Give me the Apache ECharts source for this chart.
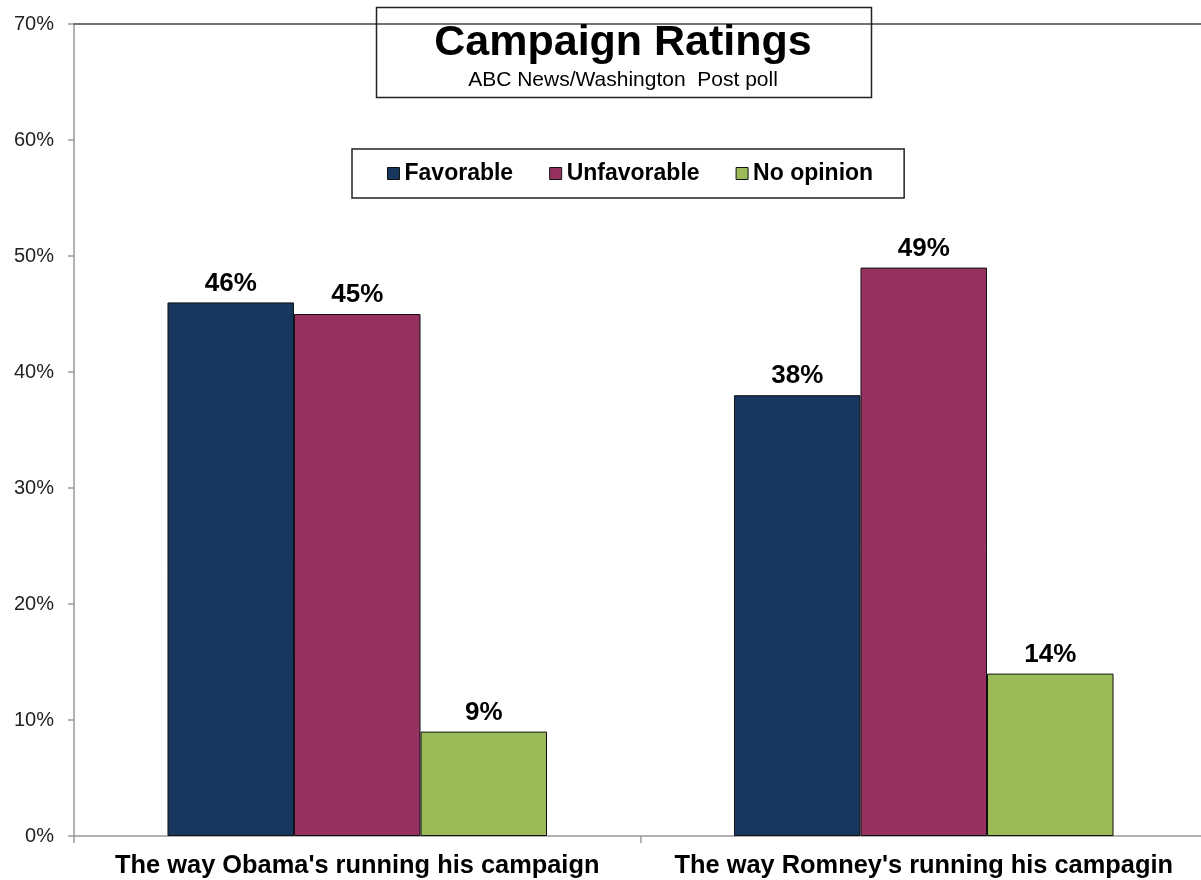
<!DOCTYPE html>
<html>
<head>
<meta charset="utf-8">
<script src="https://cdn.jsdelivr.net/npm/echarts@6/dist/echarts.min.js"></script>
<style>
html,body{margin:0;padding:0;background:#fff;}
#main{width:1201px;height:880px;}
</style>
</head>
<body>
<div id="main"></div>
<script>
var categories = ["The way Obama's running his campaign", "The way Romney's running his campagin"];
var favorable = [46, 38];
var unfavorable = [45, 49];
var noOpinion = [9, 14];
var seriesNames = ['Favorable', 'Unfavorable', 'No opinion'];
var colors = ['#17375E', '#953262', '#9BBB59'];

var labelStyle = {
	show: true,
	position: 'top',
	formatter: '{c}%',
	fontFamily: 'Liberation Sans, Arial',
	fontWeight: 'bold',
	fontSize: 26,
	color: '#000',
	distance: 6
};

function bar(name, data, color){
	return {
		name: name,
		type: 'bar',
		data: data,
		barGap: 0,
		barCategoryGap: '33%',
		itemStyle: {color: color, borderColor: '#111', borderWidth: 1},
		label: labelStyle
	};
}

var option = {
	backgroundColor: '#fff',
	animation: false,
	color: colors,
	title: {
		text: 'Campaign Ratings',
		subtext: 'ABC News/Washington  Post poll',
		left: 618,
		top: 17,
		textAlign: 'center',
		itemGap: 5,
		textStyle: {fontFamily: 'Liberation Sans, Arial', fontWeight: 'bold', fontSize: 43, color: '#000'},
		subtextStyle: {fontFamily: 'Liberation Sans, Arial', fontSize: 21, color: '#000'}
	},
	graphic: [{
		type: 'rect',
		shape: {x: 376.5, y: 7.5, width: 495, height: 90},
		style: {fill: 'none', stroke: '#222', lineWidth: 1.5},
		z: 10
	}],
	legend: {
		data: seriesNames,
		left: 352,
		top: 149,
		padding: [13, 31, 13, 35],
		itemGap: 36,
		itemWidth: 12,
		itemHeight: 12,
		icon: 'rect',
		borderColor: '#222',
		borderWidth: 1.5,
		backgroundColor: '#fff',
		itemStyle: {borderColor: '#111', borderWidth: 1},
		textStyle: {fontFamily: 'Liberation Sans, Arial', fontWeight: 'bold', fontSize: 23, color: '#000'}
	},
	grid: {left: 74, width: 1133, top: 24, bottom: 44, containLabel: false, outerBoundsMode: 'none'},
	xAxis: [{
		type: 'category',
		data: categories,
		axisLine: {lineStyle: {color: '#999', width: 1.5}},
		axisTick: {show: true, length: 7, lineStyle: {color: '#999', width: 1.5}},
		axisLabel: {fontFamily: 'Liberation Sans, Arial', fontWeight: 'bold', fontSize: 25.4, color: '#000', margin: 17, interval: 0}
	}, {
		type: 'category',
		data: categories,
		position: 'top',
		axisLine: {lineStyle: {color: '#444', width: 1.5}},
		axisTick: {show: false},
		axisLabel: {show: false}
	}],
	yAxis: {
		type: 'value',
		min: 0,
		max: 70,
		interval: 10,
		axisLine: {show: true, lineStyle: {color: '#999', width: 1.5}},
		axisTick: {show: true, length: 6, lineStyle: {color: '#999', width: 1.5}},
		splitLine: {show: false},
		axisLabel: {formatter: '{value}%', fontFamily: 'Liberation Sans, Arial', fontSize: 20, color: '#222', margin: 20}
	},
	series: [
		bar(seriesNames[0], favorable, colors[0]),
		bar(seriesNames[1], unfavorable, colors[1]),
		bar(seriesNames[2], noOpinion, colors[2])
	]
};
var mychart = echarts.init(document.getElementById('main'));
mychart.setOption(option);
</script>
</body>
</html>
